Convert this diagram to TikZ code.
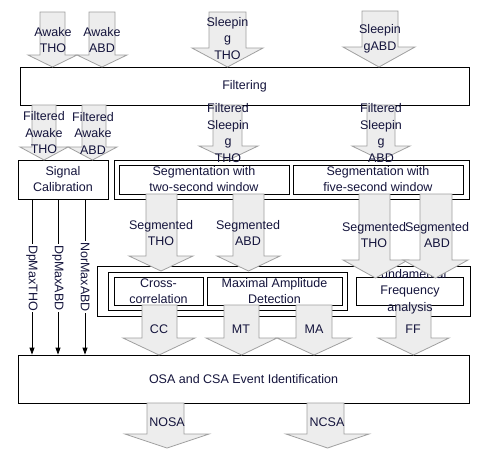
\documentclass[tikz,border=0pt]{standalone}
\usepackage{fontspec}
\setmainfont{Liberation Sans}
\usetikzlibrary{arrows.meta}
\definecolor{txt}{RGB}{20,20,60}
\definecolor{afill}{RGB}{237,237,237}
\definecolor{aline}{RGB}{160,160,160}
\newcommand\blockarr[7]{%
  \draw[barrow] (#1,#3) -- (#1,#6) -- (#4,#6) -- ({(#4+#5)/2},#7) -- (#5,#6) -- (#2,#6) -- (#2,#3) -- cycle;}
\tikzset{
  barrow/.style={draw=aline, fill=afill, line width=0.8pt, line join=miter},
  boxnode/.style={draw=black, fill=white, line width=0.8pt, inner sep=0pt},
  frame/.style={draw=black, line width=0.8pt, inner sep=0pt},
  txtnode/.style={text=txt, inner sep=0pt, align=center, font=\fontsize{12.5}{16.5}\selectfont},
  boxtxt/.style={txtnode, font=\fontsize{12.5}{16}\selectfont},
  thin/.style={draw=black, line width=0.8pt, -{Triangle[length=7pt,width=5pt]}},
  vlabel/.style={txtnode, fill=white, rotate=-90, inner sep=1pt}
}
\begin{document}
\begin{tikzpicture}[x=1pt,y=-1pt]
\useasboundingbox[fill=white] (0,0) rectangle (498,459);

% boxes
\node[boxnode, minimum width=449pt, minimum height=38pt] (filt) at (244.5,86) {};
\node[boxnode, minimum width=90pt, minimum height=39pt] (sc) at (63,179.5) {};
\node[boxnode, minimum width=355pt, minimum height=39pt] (segouter) at (291.5,179.5) {};
\node[frame, minimum width=170pt, minimum height=29pt] (seg2) at (204,179.5) {};
\node[frame, minimum width=170pt, minimum height=29pt] (seg5) at (378,179.5) {};
\node[boxnode, minimum width=373pt, minimum height=50pt] (lowouter) at (283.5,291) {};
\node[frame, minimum width=239pt, minimum height=38pt] (lowinner) at (227.5,291) {};
\node[frame, minimum width=89pt, minimum height=28pt] (cc) at (158.5,291) {};
\node[frame, minimum width=135pt, minimum height=28pt] (mad) at (274.5,291) {};
\node[frame, minimum width=107pt, minimum height=28pt] (ff) at (409.5,291) {};
\node[boxnode, minimum width=451pt, minimum height=48pt] (osa) at (243.5,379) {};

\node[boxtxt] (tfilt) at (filt.center) {Filtering};
\node[boxtxt] (tsc) at (sc.center) {Signal\\Calibration};
\node[boxtxt] (tseg2) at (seg2.center) {Segmentation with\\two-second window};
\node[boxtxt] (tseg5) at (seg5.center) {Segmentation with\\five-second window};
\node[boxtxt] (tcc) at (cc.center) {Cross-\\correlation};
\node[boxtxt] (tmad) at (mad.center) {Maximal Amplitude\\Detection};
\node[boxtxt] (tosa) at (osa.center) {OSA and CSA Event Identification};

% thin arrows from Signal Calibration
\coordinate (v1) at (32,0);
\coordinate (v2) at (58,0);
\coordinate (v3) at (85,0);
\draw[thin] (v1 |- sc.south) -- (v1 |- osa.north);
\draw[thin] (v2 |- sc.south) -- (v2 |- osa.north);
\draw[thin] (v3 |- sc.south) -- (v3 |- osa.north);
\node[vlabel] (l1) at (32,278) {DpMaxTHO};
\node[vlabel] (l2) at (58,278) {DpMaxABD};
\node[vlabel] (l3) at (85,277) {NorMaxABD};

% block arrows (top)
\blockarr{40}{65}{12}{28}{77}{55}{67}
\blockarr{89}{115}{12}{77}{127}{55}{67}
\blockarr{209}{246}{12}{192}{263}{48}{67}
\blockarr{362}{398}{11}{343}{415}{47}{67}
% filtered
\blockarr{32}{56}{105}{20}{68}{147}{160}
\blockarr{82}{106}{105}{68}{117}{147}{160}
\blockarr{213}{242}{105}{199}{258}{146}{160}
\blockarr{367}{395}{105}{352}{410}{146}{160}
% lower
\blockarr{142}{177}{305}{123}{195}{338}{355}
\blockarr{224}{259}{305}{206}{277}{338}{355}
\blockarr{296}{332}{305}{277}{351}{338}{355}
\blockarr{396}{431}{305}{378}{449}{338}{355}
\blockarr{147}{184}{403}{125}{209}{434}{448}
\blockarr{307}{344}{403}{286}{369}{434}{448}

\node[boxtxt, font=\fontsize{12.5}{16.5}\selectfont] (tff) at (410,291.5) {Fundamental\\Frequency\\analysis};

% segmented arrows
\blockarr{146}{177}{194}{129}{193}{256}{271}
\blockarr{233}{264}{194}{217}{280}{256}{271}
\blockarr{359}{390}{194}{343}{408}{260}{278}
\blockarr{420}{452}{194}{403}{468}{260}{278}

% arrow texts
\node[txtnode] (a1) at (53,40) {Awake\\THO};
\node[txtnode] (a2) at (102,40) {Awake\\ABD};
\node[txtnode] (a3) at (227.5,38.5) {Sleepin\\g\\THO};
\node[txtnode] (a4) at (380,39) {Sleepin\\gABD};
\node[txtnode] (a5) at (44,133) {Filtered\\Awake\\THO};
\node[txtnode] (a6) at (93,133) {Filtered\\Awake\\ABD};
\node[txtnode] (a7) at (228,133) {Filtered\\Sleepin\\g\\THO};
\node[txtnode] (a8) at (381,133) {Filtered\\Sleepin\\g\\ABD};
\node[txtnode] (a9) at (161,233) {Segmented\\THO};
\node[txtnode] (a10) at (248,233) {Segmented\\ABD};
\node[txtnode] (a11) at (374,235) {Segmented\\THO};
\node[txtnode] (a12) at (437,235) {Segmented\\ABD};
\node[txtnode] (a13) at (159,329) {CC};
\node[txtnode] (a14) at (241,329) {MT};
\node[txtnode] (a15) at (314,329) {MA};
\node[txtnode] (a16) at (413,329) {FF};
\node[txtnode] (a17) at (167,422) {NOSA};
\node[txtnode] (a18) at (327,422) {NCSA};
\end{tikzpicture}
\end{document}
